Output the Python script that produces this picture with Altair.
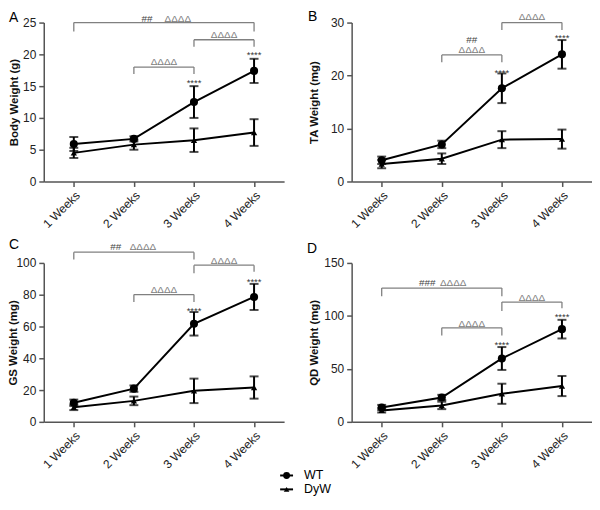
import json
import altair as alt
import pandas as pd

weeks = [1, 2, 3, 4]
week_labels = ["1 Weeks", "2 Weeks", "3 Weeks", "4 Weeks"]
groups = ["WT", "DyW"]

# Panel A - body weight
a_title = "Body Weight (g)"
a_ticks = [0, 5, 10, 15, 20, 25]
a_wt = [5.9, 6.7, 12.5, 17.4]
a_wt_sd = [1.1, 0.4, 2.5, 1.9]
a_dyw = [4.5, 5.8, 6.5, 7.7]
a_dyw_sd = [0.8, 0.8, 1.85, 2.1]
a_brackets = [(1, 4, 25.0, 23.6, 23.6), (3, 4, 22.3, 21.2, 21.2), (2, 3, 18.0, 16.9, 16.9)]
a_marks = [("##", 2.22, 25.6), ("ΔΔΔΔ", 2.73, 25.6), ("ΔΔΔΔ", 3.5, 23.1), ("ΔΔΔΔ", 2.5, 18.8)]
a_stars = [(3, 15.9), (4, 20.3)]

# Panel B - TA weight
b_title = "TA Weight (mg)"
b_ticks = [0, 10, 20, 30]
b_wt = [4.0, 7.0, 17.6, 24.0]
b_wt_sd = [0.7, 0.7, 2.8, 2.7]
b_dyw = [3.3, 4.3, 7.9, 8.0]
b_dyw_sd = [0.8, 1.0, 1.6, 1.8]
b_brackets = [(3, 4, 30.0, 28.6, 28.6), (2, 3, 23.9, 22.5, 22.5)]
b_marks = [("ΔΔΔΔ", 3.5, 31.0), ("##", 2.5, 26.8), ("ΔΔΔΔ", 2.5, 24.8)]
b_stars = [(3, 21.1), (4, 27.6)]

# Panel C - GS weight
c_title = "GS Weight (mg)"
c_ticks = [0, 20, 40, 60, 80, 100]
c_wt = [12.0, 20.9, 61.7, 78.6]
c_wt_sd = [2.0, 2.0, 7.4, 8.2]
c_dyw = [9.2, 13.2, 19.5, 21.6]
c_dyw_sd = [1.8, 2.7, 7.7, 7.0]
c_brackets = [(1, 3, 106.8, 102.1, 102.1), (3, 4, 98.6, 93.5, 94.5), (2, 3, 80.1, 75.4, 75.4)]
c_marks = [("##", 1.70, 110.3), ("ΔΔΔΔ", 2.15, 110.3), ("ΔΔΔΔ", 3.5, 101.3), ("ΔΔΔΔ", 2.5, 83.2)]
c_stars = [(3, 71.9), (4, 89.8)]

# Panel D - QD weight
d_title = "QD Weight (mg)"
d_ticks = [0, 50, 100, 150]
d_wt = [13.5, 23.0, 59.8, 87.5]
d_wt_sd = [2.5, 2.5, 10.8, 8.8]
d_dyw = [10.8, 15.5, 26.5, 33.8]
d_dyw_sd = [2.0, 3.5, 9.5, 9.5]
d_brackets = [(1, 3, 126.3, 118.6, 118.6), (3, 4, 113.1, 104.7, 107.2), (2, 3, 88.7, 81.6, 81.6)]
d_marks = [("###", 1.76, 131.0), ("ΔΔΔΔ", 2.19, 131.0), ("ΔΔΔΔ", 3.5, 117.0), ("ΔΔΔΔ", 2.5, 92.4)]
d_stars = [(3, 75.5), (4, 101.6)]

W, H = 242, 160
FONT = "Liberation Sans"
AXIS_COLOR = "#555555"

label_expr = json.dumps(week_labels, ensure_ascii=False) + "[datum.value - 1]"


def xenc(field):
    return alt.X(
        field,
        type="quantitative",
        scale=alt.Scale(domain=[0.5, 4.5], nice=False, zero=False),
        axis=alt.Axis(values=weeks, labelExpr=label_expr, labelAngle=-45, title=None,
                      grid=False, labelFontSize=12, labelPadding=3),
    )


def yenc(field, ticks, title, title_x):
    return alt.Y(
        field,
        type="quantitative",
        scale=alt.Scale(domain=[ticks[0], ticks[-1]], nice=False),
        axis=alt.Axis(values=ticks, title=title, grid=False, labelFontSize=12,
                      titleFontSize=11.5, titleFontWeight="bold", titleX=title_x,
                      titleColor="#111111", labelPadding=3),
    )


def panel(letter, letter_x, letter_y, title, title_x, ticks, wt, wt_sd, dyw, dyw_sd,
          brackets, marks, stars, legend=False):
    rows = []
    for g, m, s in ((groups[0], wt, wt_sd), (groups[1], dyw, dyw_sd)):
        for w, mv, sv in zip(weeks, m, s):
            rows.append({"week": w, "group": g, "mean": mv, "lo": mv - sv, "hi": mv + sv})
    df = pd.DataFrame(rows)
    caps = pd.concat([
        df[["week", "group", "lo"]].rename(columns={"lo": "v"}),
        df[["week", "group", "hi"]].rename(columns={"hi": "v"}),
    ])

    hseg = pd.DataFrame([{"x1": b[0], "x2": b[1], "y": b[2]} for b in brackets])
    vseg = pd.DataFrame(
        [{"x": b[0], "y1": b[3], "y2": b[2]} for b in brackets]
        + [{"x": b[1], "y1": b[4], "y2": b[2]} for b in brackets]
    )
    mk = pd.DataFrame([{"text": t, "x": x, "y": y} for t, x, y in marks])
    st = pd.DataFrame([{"text": "****", "x": x, "y": y} for x, y in stars])

    Y = lambda f: yenc(f, ticks, title, title_x)

    line = alt.Chart(df).mark_line(color="black", strokeWidth=2).encode(
        x=xenc("week"), y=Y("mean"), detail="group:N")
    err = alt.Chart(df).mark_rule(color="black", strokeWidth=2).encode(
        x=xenc("week"), y=Y("lo"), y2="hi:Q")
    cap = alt.Chart(caps).mark_tick(color="black", orient="horizontal", size=9, thickness=2).encode(
        x=xenc("week"), y=Y("v"))
    pts = alt.Chart(df).mark_point(filled=True, color="black", opacity=1).encode(
        x=xenc("week"), y=Y("mean"),
        shape=alt.Shape("group:N", scale=alt.Scale(domain=groups, range=["circle", "triangle-up"]), legend=None),
        size=alt.Size("group:N", scale=alt.Scale(domain=groups, range=[66, 40]), legend=None),
    )
    hbr = alt.Chart(hseg).mark_rule(color="#808080", strokeWidth=1.3).encode(
        x=xenc("x1"), x2="x2:Q", y=Y("y"))
    vbr = alt.Chart(vseg).mark_rule(color="#808080", strokeWidth=1.3).encode(
        x=xenc("x"), y=Y("y1"), y2="y2:Q")
    txt = alt.Chart(mk).mark_text(fontSize=10, baseline="middle").encode(
        x=xenc("x"), y=Y("y"), text="text:N",
        color=alt.condition("indexof(datum.text, '#') >= 0", alt.value("#444444"), alt.value("#808080")))
    stx = alt.Chart(st).mark_text(fontSize=9.5, baseline="middle", dy=3, color="#333333").encode(
        x=xenc("x"), y=Y("y"), text="text:N")
    let = alt.Chart(pd.DataFrame({"t": [letter]})).mark_text(
        align="left", baseline="alphabetic", fontSize=14, color="black").encode(
        x=alt.value(letter_x), y=alt.value(letter_y), text="t:N")

    layers = [hbr, vbr, txt, stx, err, cap, line, pts, let]

    if legend:
        lg_shapes = ["circle", "triangle-up"]
        lg_sizes = [48, 32]
        for i, g in enumerate(groups):
            ly = H + 54 + 14 * i
            gdf = pd.DataFrame({"group": [g]})
            layers.append(alt.Chart(gdf).mark_rule(color="black", strokeWidth=2).encode(
                x=alt.value(238), x2=alt.value(251), y=alt.value(ly)))
            layers.append(alt.Chart(gdf).mark_point(filled=True, color="black", opacity=1,
                                                     shape=lg_shapes[i], size=lg_sizes[i]).encode(
                x=alt.value(244.5), y=alt.value(ly)))
            layers.append(alt.Chart(gdf).mark_text(align="left", baseline="middle", fontSize=12.5,
                                                    color="black").encode(
                x=alt.value(262), y=alt.value(ly), text="group:N"))

    return alt.layer(*layers).properties(width=W, height=H)


A = panel("A", -35, -1, a_title, -24, a_ticks, a_wt, a_wt_sd, a_dyw, a_dyw_sd, a_brackets, a_marks, a_stars)
B = panel("B", -44, -2, b_title, -32, b_ticks, b_wt, b_wt_sd, b_dyw, b_dyw_sd, b_brackets, b_marks, b_stars)
C = panel("C", -35, -14, c_title, -25, c_ticks, c_wt, c_wt_sd, c_dyw, c_dyw_sd, c_brackets, c_marks, c_stars,
          legend=True)
D = panel("D", -45, -10, d_title, -32, d_ticks, d_wt, d_wt_sd, d_dyw, d_dyw_sd, d_brackets, d_marks, d_stars)

chart = alt.concat(
    A, B, C, D, columns=2, spacing={"row": 82, "column": 68}, bounds="flush",
).properties(padding=0).configure(
    font=FONT,
    view=alt.ViewConfig(stroke=None),
    axis=alt.AxisConfig(domainColor=AXIS_COLOR, domainWidth=1.5, tickColor=AXIS_COLOR, tickWidth=1.5,
                        tickSize=5, labelColor="#222222", labelFont=FONT, titleFont=FONT),
)

chart.save("out.html", embed_options={"renderer": "svg", "actions": False})
